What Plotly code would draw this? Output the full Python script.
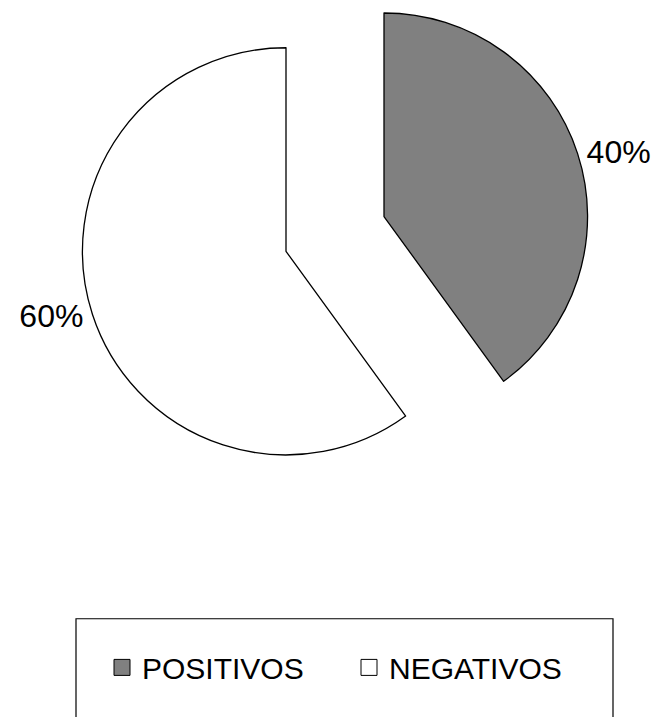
import plotly.graph_objects as go

labels = ["POSITIVOS", "NEGATIVOS"]
values = [40, 60]
colors = ["#808080", "#ffffff"]

FONT = "Liberation Sans, Arial, sans-serif"
W, H = 662, 717
OFF = 8  # page body margin
R = 205
centers = [(384, 213), (286, 248)]  # target pixel centers of exploded slices


def px(x):
    return (x - OFF) / W


def py(y):
    return (H - (y - OFF)) / H


fig = go.Figure()

for i, (cx, cy) in enumerate(centers):
    cols = ["rgba(0,0,0,0)"] * len(values)
    cols[i] = colors[i]
    lw = [0] * len(values)
    lw[i] = 1.3
    tt = [""] * len(values)
    tt[i] = "%{percent:.0%}"
    fig.add_trace(go.Pie(
        labels=labels, values=values, sort=False, direction="clockwise", rotation=0,
        marker=dict(colors=cols, line=dict(color="black", width=lw)),
        texttemplate=tt, textposition="outside", textinfo="percent",
        outsidetextfont=dict(family=FONT, size=32, color="black"),
        showlegend=False, hoverinfo="skip",
        domain=dict(x=[px(cx - R), px(cx + R)], y=[py(cy + R), py(cy - R)]),
    ))

for lab, col in zip(labels, colors):
    fig.add_trace(go.Scatter(
        x=[None], y=[None], mode="markers", name=lab,
        marker=dict(symbol="square", size=18, color=col, line=dict(color="black", width=1)),
    ))

fig.update_layout(
    width=W, height=H, margin=dict(l=0, r=0, t=0, b=0),
    paper_bgcolor="white", plot_bgcolor="white",
    xaxis=dict(visible=False), yaxis=dict(visible=False),
    legend=dict(orientation="h", x=px(102), xanchor="left", y=py(667), yanchor="middle",
                font=dict(family=FONT, size=30, color="black"), entrywidth=202,
                bgcolor="rgba(0,0,0,0)", borderwidth=0),
    shapes=[dict(type="rect", xref="paper", yref="paper", x0=px(76), x1=px(613),
                 y0=-0.2, y1=py(618), line=dict(color="black", width=1.2),
                 fillcolor="rgba(0,0,0,0)", layer="below")],
)

fig.write_html("out.html")
